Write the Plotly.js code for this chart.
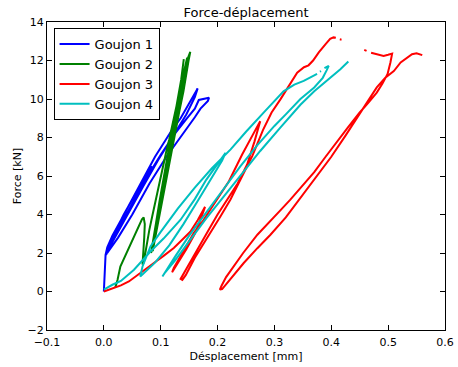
<!DOCTYPE html>
<html>
<head>
<meta charset="utf-8">
<script src="https://cdn.plot.ly/plotly-3.0.1.min.js"></script>
<style>html,body{margin:0;padding:0;background:#fff;}#chart{width:458px;height:367px;}</style>
</head>
<body>
<div id="chart"></div>
<script>
// ---- Data ----
const seriesNames = ["Goujon 1", "Goujon 2", "Goujon 3", "Goujon 4"];
const seriesColors = ["#0000ff", "#008000", "#ff0000", "#00bfbf"];

// Goujon 1 (blue)
const g1x = [0, 0.001, 0.002, 0.003, 0.006, 0.015, 0.03, 0.05, 0.07, 0.09, 0.105, 0.12, 0.135, 0.15, 0.165,
  0.16, 0.145, 0.12, 0.095, 0.07, 0.045, 0.025, 0.008, 0.004,
  0.012, 0.03, 0.05, 0.075, 0.1, 0.125, 0.145, 0.16, 0.167, 0.176, 0.185, 0.183, 0.178, 0.17, 0.16, 0.14, 0.11, 0.08, 0.05, 0.025, 0.006,
  0.015, 0.035, 0.06, 0.085];
const g1y = [0, 0.5, 1.2, 1.9, 2.3, 2.9, 3.7, 4.8, 5.9, 7.0, 7.7, 8.4, 9.0, 9.8, 10.55,
  10.1, 9.2, 8.0, 6.8, 5.5, 4.2, 3.1, 2.2, 1.9,
  2.5, 3.5, 4.6, 5.9, 7.1, 8.2, 8.95, 9.5, 9.95, 10.0, 10.07, 9.9, 9.75, 9.5, 9.05, 8.25, 7.0, 5.6, 4.0, 2.8, 2.0,
  2.8, 4.0, 5.3, 6.5];

// Goujon 2 (green)
const g2x = [0.02, 0.024, 0.029, 0.038, 0.047, 0.055, 0.062, 0.067, 0.07, 0.072, 0.071, 0.069, 0.068, 0.07, 0.075, 0.08, 0.085, 0.09, 0.095, 0.1, 0.105, 0.11, 0.115, 0.12, 0.125, 0.13, 0.135, 0.14, 0.145, 0.15, 0.152,
  0.149, 0.145, 0.14, 0.133, 0.125, 0.118, 0.11, 0.102, 0.095, 0.089, 0.086,
  0.089, 0.095, 0.102, 0.11, 0.118, 0.126, 0.133, 0.14, 0.1465,
  0.144, 0.139, 0.132, 0.124, 0.116, 0.108, 0.1, 0.093, 0.088, 0.083,
  0.086, 0.092, 0.098, 0.106, 0.114, 0.122, 0.13, 0.136, 0.1406];
const g2y = [0.2, 0.6, 1.3, 1.9, 2.5, 3.0, 3.5, 3.75, 3.85, 3.5, 2.8, 2.0, 1.4, 1.5, 2.4, 3.2, 3.9, 4.6, 5.3, 6.0, 6.6, 7.3, 7.9, 8.6, 9.3, 10.0, 10.6, 11.3, 11.9, 12.3, 12.45,
  12.0, 11.2, 10.4, 9.4, 8.2, 7.1, 5.9, 4.7, 3.6, 2.6, 2.1,
  2.6, 3.7, 5.0, 6.4, 7.7, 9.0, 10.2, 11.3, 12.15,
  11.6, 10.7, 9.6, 8.3, 7.0, 5.7, 4.4, 3.3, 2.5, 2.0,
  2.6, 3.6, 4.7, 6.0, 7.3, 8.6, 9.9, 11.0, 12.07];

// Goujon 3 (red)
const g3x = [0, 0.008, 0.018, 0.03, 0.044, 0.065, 0.088, 0.105, 0.123, 0.14, 0.152, 0.165, 0.176, 0.178,
  0.172, 0.16, 0.145, 0.13, 0.122, 0.12,
  0.123, 0.14, 0.158, 0.175, 0.1875, 0.205, 0.22, 0.243, 0.26, 0.27, 0.275,
  0.265, 0.252, 0.235, 0.217, 0.2, 0.1845, 0.165, 0.15, 0.14, 0.135,
  0.138, 0.144, 0.16, 0.1875, 0.205, 0.2227, 0.24, 0.261, 0.28, 0.295, 0.3105, 0.325, 0.34, 0.352, 0.36, 0.368, 0.378, 0.39, 0.398, 0.404, 0.408,
  null, 0.415, 0.418, null, 0.458, 0.462, null,
  0.47, 0.48, 0.492, 0.5, 0.507,
  0.504, 0.499, 0.49, 0.48, 0.465, 0.45, 0.43, 0.41, 0.39, 0.37, 0.346, 0.328, 0.31, 0.293, 0.27, 0.245, 0.228, 0.215, 0.207, 0.204,
  0.208, 0.217, 0.23, 0.246, 0.27, 0.293, 0.32, 0.346, 0.37, 0.4, 0.425, 0.445, 0.465, 0.48, 0.495, 0.51, 0.522, 0.533, 0.542, 0.55, 0.556, 0.56];
const g3y = [0, 0.08, 0.18, 0.32, 0.52, 0.96, 1.48, 1.85, 2.26, 2.75, 3.1, 3.7, 4.3, 4.4,
  3.9, 3.0, 2.2, 1.5, 1.15, 1.0,
  1.22, 2.1, 3.04, 3.7, 4.26, 5.0, 5.73, 7.1, 8.0, 8.6, 8.85,
  7.8, 6.6, 5.6, 4.78, 4.0, 3.21, 2.2, 1.4, 0.9, 0.65,
  0.6, 0.85, 1.75, 3.04, 3.9, 4.78, 5.8, 7.03, 8.4, 9.3, 9.98, 10.7, 11.37, 11.65, 11.75, 12.0, 12.42, 12.85, 13.12, 13.2, 13.18,
  null, 13.1, 13.08, null, 12.55, 12.5, null,
  12.4, 12.32, 12.24, 12.3, 12.36,
  11.9, 11.3, 10.8, 10.33, 9.8, 9.3, 8.55, 7.8, 7.0, 6.2, 5.35, 4.77, 4.2, 3.65, 2.95, 2.0, 1.3, 0.75, 0.3, 0.1,
  0.12, 0.44, 0.95, 1.48, 2.25, 2.95, 3.85, 4.86, 5.8, 7.0, 8.1, 9.0, 9.9, 10.6, 11.1, 11.45, 11.9, 12.16, 12.33, 12.38, 12.33, 12.28];

// Goujon 4 (cyan)
const g4x = [0, 0.008, 0.015, 0.03, 0.053, 0.082, 0.105, 0.135, 0.16, 0.18, 0.2, 0.214,
  0.208, 0.19, 0.165, 0.14, 0.115, 0.09, 0.07, 0.064,
  0.068, 0.082, 0.1, 0.13, 0.16, 0.19, 0.223, 0.25, 0.281, 0.3, 0.316, 0.335, 0.3515, 0.365, 0.375,
  null, 0.38, 0.382, null, 0.388, 0.3955,
  0.392, 0.385, 0.37, 0.3457, 0.32, 0.3, 0.27, 0.24, 0.21, 0.18, 0.15, 0.125, 0.11, 0.103,
  0.108, 0.125, 0.15, 0.18, 0.21, 0.24, 0.275, 0.31, 0.3457, 0.37, 0.395, 0.416, 0.43];
const g4y = [0.1, 0.25, 0.35, 0.55, 1.13, 2.08, 2.75, 3.73, 4.8, 5.8, 6.6, 7.2,
  6.8, 5.9, 4.7, 3.5, 2.4, 1.5, 0.95, 0.78,
  1.3, 2.34, 3.1, 4.3, 5.4, 6.4, 7.38, 8.3, 9.29, 9.9, 10.4, 10.75, 10.94, 11.15, 11.3,
  null, 11.42, 11.45, null, 11.6, 11.72,
  11.5, 11.1, 10.6, 10.0, 9.2, 8.6, 7.6, 6.5, 5.3, 4.1, 2.9, 1.8, 1.1, 0.78,
  1.0, 1.6, 2.6, 3.8, 4.9, 6.0, 7.3, 8.5, 9.7, 10.4, 11.0, 11.55, 11.95];

const xTickVals = [-0.1, 0.0, 0.1, 0.2, 0.3, 0.4, 0.5, 0.6];
const yTickVals = [-2, 0, 2, 4, 6, 8, 10, 12, 14];

// ---- Build traces ----
const xs = [g1x, g2x, g3x, g4x];
const ys = [g1y, g2y, g3y, g4y];
const traces = seriesNames.map((name, i) => ({
  x: xs[i], y: ys[i], name: name, type: "scatter", mode: "lines",
  line: {color: seriesColors[i], width: 2}, connectgaps: false
}));

const font = "DejaVu Sans, sans-serif";
const layout = {
  width: 458, height: 367,
  margin: {l: 47, r: 13, t: 22, b: 37, pad: 0},
  paper_bgcolor: "#fff", plot_bgcolor: "#fff",
  font: {family: font, size: 11, color: "#000"},
  title: {text: "Force-déplacement", font: {family: font, size: 13, color: "#000"},
          x: 0.5, xref: "paper", y: 0.965, yref: "container", yanchor: "middle"},
  xaxis: {
    range: [-0.1, 0.6], tickvals: xTickVals, tickformat: ".1f",
    showgrid: false, zeroline: false, showline: true, linecolor: "#000", linewidth: 1,
    mirror: "ticks", ticks: "inside", ticklen: 5, tickcolor: "#000",
    ticklabelstandoff: 2,
    tickfont: {family: font, size: 11},
    title: {text: "Désplacement [mm]", font: {family: font, size: 11}, standoff: 4}
  },
  yaxis: {
    range: [-2, 14], tickvals: yTickVals,
    showgrid: false, zeroline: false, showline: true, linecolor: "#000", linewidth: 1,
    mirror: "ticks", ticks: "inside", ticklen: 5, tickcolor: "#000",
    tickfont: {family: font, size: 11},
    title: {text: "Force [kN]", font: {family: font, size: 11}, standoff: 3}
  },
  legend: {
    x: 0.0165, y: 0.98, xanchor: "left", yanchor: "top",
    bgcolor: "#fff", bordercolor: "#000", borderwidth: 1,
    font: {family: font, size: 13, color: "#000"}
  },
  showlegend: true
};

Plotly.newPlot("chart", traces, layout, {displayModeBar: false, staticPlot: true});
</script>
</body>
</html>
